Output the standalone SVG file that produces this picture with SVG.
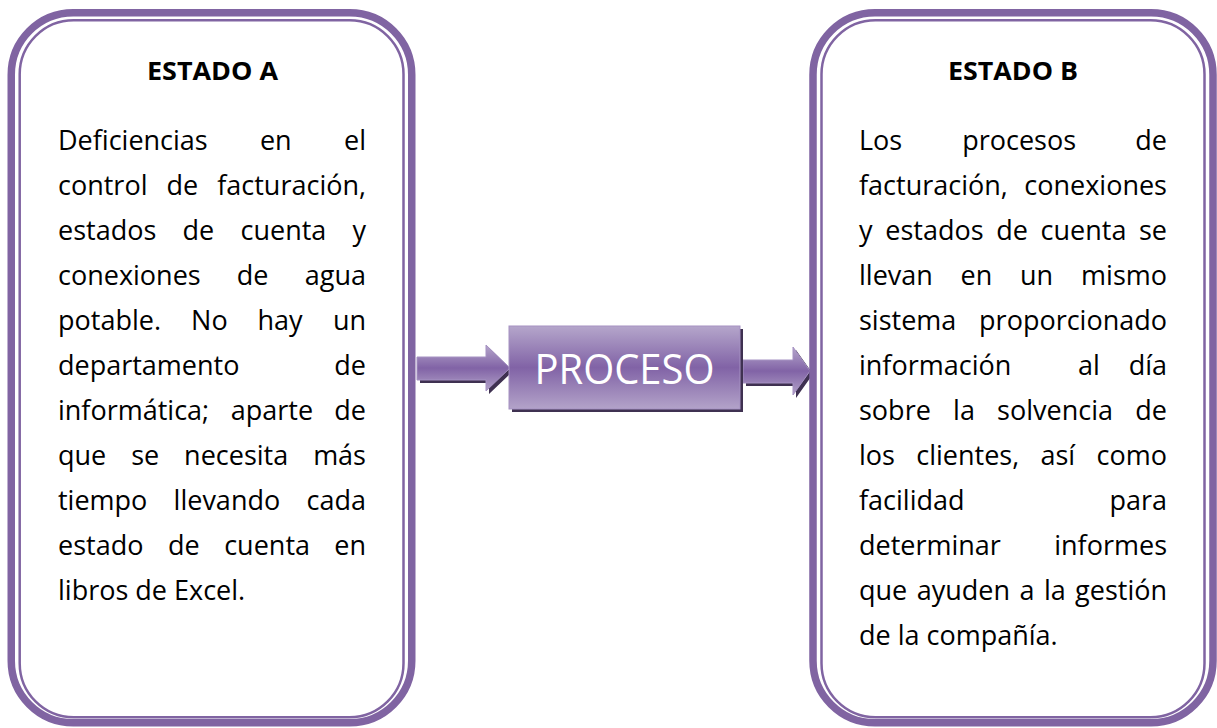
<svg xmlns="http://www.w3.org/2000/svg" width="1217" height="728" viewBox="0 0 1217 728">
<style>
.t{font-family:"Open Sans","Liberation Sans",sans-serif;font-size:27px;fill:#000}
.e{text-anchor:end}
.h{font-family:"Open Sans","Liberation Sans",sans-serif;font-size:25px;font-weight:bold;fill:#000;text-anchor:middle}
.outer{fill:#fff;stroke:#8064a2;stroke-width:7.5}
.inner{fill:none;stroke:#8064a2;stroke-width:2.5}
.shadow{fill:#3f3151}
.grad{fill:url(#g);stroke:#a591c2;stroke-width:1}
</style>
<defs>
<linearGradient id="g" x1="0" y1="0" x2="0" y2="1">
<stop offset="0" stop-color="#b5a6cb"/>
<stop offset="0.5" stop-color="#8163a6"/>
<stop offset="1" stop-color="#b3a3c9"/>
</linearGradient>
</defs>
<rect width="1217" height="728" fill="#fff"/>

<g id="estado-a">
<rect class="outer" x="11.25" y="12.75" width="400.5" height="710" rx="62" ry="62"/>
<rect class="inner" x="19.7" y="20.3" width="383.8" height="697" rx="54" ry="54"/>
<text class="h" x="212.5" y="80" textLength="131" lengthAdjust="spacingAndGlyphs">ESTADO A</text>
<text class="t" x="58" y="150">Deficiencias</text><text class="t" x="259.9" y="150">en</text><text class="t e" x="366" y="150">el</text>
<text class="t" x="58" y="195">control</text><text class="t" x="166.4" y="195">de</text><text class="t e" x="366" y="195">facturación,</text>
<text class="t" x="58" y="240">estados</text><text class="t" x="182.5" y="240">de</text><text class="t" x="240.5" y="240">cuenta</text><text class="t e" x="366" y="240">y</text>
<text class="t" x="58" y="285">conexiones</text><text class="t" x="236.8" y="285">de</text><text class="t e" x="366" y="285">agua</text>
<text class="t" x="58" y="330">potable.</text><text class="t" x="191.1" y="330">No</text><text class="t" x="257.5" y="330">hay</text><text class="t e" x="366" y="330">un</text>
<text class="t" x="58" y="375">departamento</text><text class="t e" x="366" y="375">de</text>
<text class="t" x="58" y="420">informática;</text><text class="t" x="230.8" y="420">aparte</text><text class="t e" x="366" y="420">de</text>
<text class="t" x="58" y="465">que</text><text class="t" x="131.2" y="465">se</text><text class="t" x="184.1" y="465">necesita</text><text class="t e" x="366" y="465">más</text>
<text class="t" x="58" y="510">tiempo</text><text class="t" x="173.6" y="510">llevando</text><text class="t e" x="366" y="510">cada</text>
<text class="t" x="58" y="555">estado</text><text class="t" x="167.9" y="555">de</text><text class="t" x="224.2" y="555">cuenta</text><text class="t e" x="366" y="555">en</text>
<text class="t" x="58" y="600">libros de Excel.</text>
</g>

<g id="connectors">
<polygon class="shadow" points="420,360 489,360 489,348 513,371 489,394 489,383 420,383"/>
<polygon class="grad" points="417,357 486,357 486,345 510,368 486,391 486,380 417,380"/>
<polygon class="shadow" points="746,363 796,363 796,350 813,374 796,398 796,386 746,386"/>
<polygon class="grad" points="743,360 793,360 793,347 810,371 793,395 793,383 743,383"/>
</g>

<g id="proceso">
<rect class="shadow" x="512" y="329" width="231" height="83"/>
<rect class="grad" x="509" y="326" width="231" height="83"/>
<text x="624.5" y="384" font-family="'Open Sans','Liberation Sans',sans-serif" font-size="42" fill="#fff" text-anchor="middle" textLength="180" lengthAdjust="spacingAndGlyphs">PROCESO</text>
</g>

<g id="estado-b">
<rect class="outer" x="813" y="12.75" width="400" height="710" rx="62" ry="62"/>
<rect class="inner" x="821.5" y="20.3" width="383" height="697" rx="54" ry="54"/>
<text class="h" x="1013" y="80" textLength="130" lengthAdjust="spacingAndGlyphs">ESTADO B</text>
<text class="t" x="859" y="150">Los</text><text class="t" x="962.2" y="150">procesos</text><text class="t e" x="1167" y="150">de</text>
<text class="t" x="859" y="195">facturación,</text><text class="t e" x="1167" y="195">conexiones</text>
<text class="t" x="859" y="240">y</text><text class="t" x="885.3" y="240">estados</text><text class="t" x="996.2" y="240">de</text><text class="t" x="1040.6" y="240">cuenta</text><text class="t e" x="1167" y="240">se</text>
<text class="t" x="859" y="285">llevan</text><text class="t" x="960.6" y="285">en</text><text class="t" x="1020" y="285">un</text><text class="t e" x="1167" y="285">mismo</text>
<text class="t" x="859" y="330">sistema</text><text class="t e" x="1167" y="330">proporcionado</text>
<text class="t" x="859" y="375">información</text><text class="t" x="1078" y="375">al</text><text class="t e" x="1167" y="375">día</text>
<text class="t" x="859" y="420">sobre</text><text class="t" x="953.1" y="420">la</text><text class="t" x="997.1" y="420">solvencia</text><text class="t e" x="1167" y="420">de</text>
<text class="t" x="859" y="465">los</text><text class="t" x="916.3" y="465">clientes,</text><text class="t" x="1040.5" y="465">así</text><text class="t e" x="1167" y="465">como</text>
<text class="t" x="859" y="510">facilidad</text><text class="t e" x="1167" y="510">para</text>
<text class="t" x="859" y="555">determinar</text><text class="t e" x="1167" y="555">informes</text>
<text class="t" x="859" y="600">que</text><text class="t" x="916.7" y="600">ayuden</text><text class="t" x="1019.5" y="600">a</text><text class="t" x="1043.9" y="600">la</text><text class="t e" x="1167" y="600">gestión</text>
<text class="t" x="859" y="645">de la compañía.</text>
</g>
</svg>
